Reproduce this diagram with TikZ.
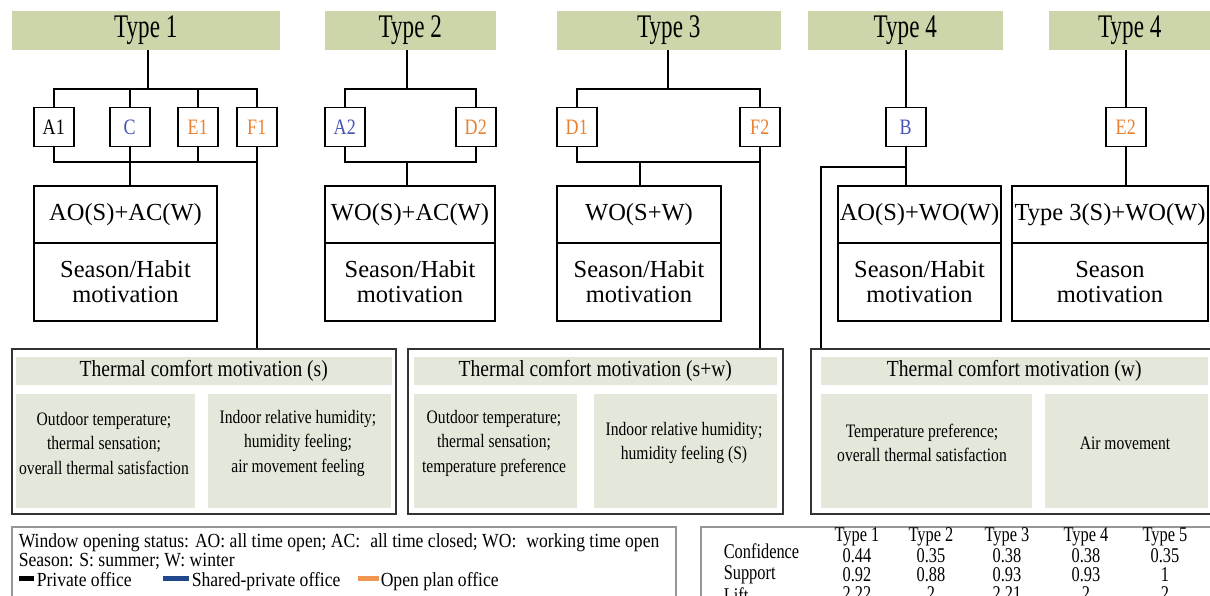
\documentclass[tikz,border=0pt]{standalone}
\usepackage{fontspec}
\setmainfont{Liberation Serif}
\newfontfamily\headfont[FakeStretch=0.7]{Liberation Serif}
\newfontfamily\condfont[FakeStretch=0.82]{Liberation Serif}
\newfontfamily\bandfont[FakeStretch=0.85]{Liberation Serif}
\newfontfamily\notefont[FakeStretch=0.88]{Liberation Serif}
\newfontfamily\tabfont[FakeStretch=0.78]{Liberation Serif}
\usepackage{tikz}
\usetikzlibrary{positioning}
\definecolor{headgreen}{RGB}{204, 214, 170}
\definecolor{panelgreen}{RGB}{228, 232, 218}
\definecolor{sharedblue}{RGB}{68, 84, 180}
\definecolor{openorange}{RGB}{232, 128, 48}
\definecolor{barblue}{RGB}{31, 73, 140}
\definecolor{barorange}{RGB}{240, 150, 80}
\definecolor{framegray}{RGB}{150, 150, 150}

\begin{document}
\begin{tikzpicture}[x = 1pt, y = -1pt, line width = 1.5pt,
  head/.style = {fill = headgreen, anchor = north west, minimum height = 39pt, inner sep = 0pt, font = \headfont\fontsize{33}{33}\selectfont},
  office/.style = {draw, anchor = north west, minimum width = 40pt, minimum height = 39pt, inner sep = 0pt, font = \condfont\fontsize{22}{22}\selectfont},
  status/.style = {draw, line width = 2pt, anchor = north west, minimum height = 57pt, inner sep = 0pt, font = \fontsize{24.5}{25}\selectfont},
  motive/.style = {draw, line width = 2pt, anchor = north west, minimum height = 78pt, inner sep = 0pt, align = center, font = \fontsize{24.5}{25}\selectfont},
  comfort/.style = {draw = black!80, anchor = north west, minimum height = 165pt, inner sep = 0pt},
  band/.style = {fill = panelgreen, anchor = north west, minimum height = 28pt, inner sep = 0pt, font = \bandfont\fontsize{23}{23}\selectfont},
  panel/.style = {fill = panelgreen, anchor = north west, minimum height = 114pt, inner sep = 0pt},
  factor/.style = {align = center, inner sep = 0pt, font = \condfont\fontsize{19}{24.5}\selectfont},
  note/.style = {anchor = base west, inner sep = 0pt, font = \notefont\fontsize{20}{20}\selectfont},
  swatch/.style = {anchor = west, minimum height = 5pt, inner sep = 0pt},
  cell/.style = {anchor = base, inner sep = 0pt, font = \tabfont\fontsize{21}{21}\selectfont}]
  \useasboundingbox (0,0) rectangle (1210,596);

  % types
  \node [head, minimum width = 268pt] (type1) at (11,10) {Type 1};
  \node [head, minimum width = 171pt] (type2) at (324,10) {Type 2};
  \node [head, minimum width = 224pt] (type3) at (556,10) {Type 3};
  \node [head, minimum width = 195pt] (type4) at (807,10) {Type 4};
  \node [head, minimum width = 162pt] (type5) at (1048,10) {Type 4};

  % offices
  \node [office] (A1) at (33,107) {A1};
  \node [office, text = sharedblue] (C) at (109,107) {C};
  \node [office, text = openorange] (E1) at (177,107) {E1};
  \node [office, text = openorange] (F1) at (236,107) {F1};
  \node [office, text = sharedblue] (A2) at (324,107) {A2};
  \node [office, text = openorange] (D2) at (455,107) {D2};
  \node [office, text = openorange] (D1) at (556,107) {D1};
  \node [office, text = openorange] (F2) at (739,107) {F2};
  \node [office, text = sharedblue] (B) at (885,107) {B};
  \node [office, text = openorange] (E2) at (1105,107) {E2};

  % window opening status and motivation
  \node [status, minimum width = 183pt] (status1) at (33,185) {AO(S)+AC(W)};
  \node [motive, minimum width = 183pt] (motive1) at (33,242) {Season/Habit\\motivation};
  \node [status, minimum width = 170pt] (status2) at (324,185) {WO(S)+AC(W)};
  \node [motive, minimum width = 170pt] (motive2) at (324,242) {Season/Habit\\motivation};
  \node [status, minimum width = 164pt] (status3) at (556,185) {WO(S+W)};
  \node [motive, minimum width = 164pt] (motive3) at (556,242) {Season/Habit\\motivation};
  \node [status, minimum width = 163pt] (status4) at (837,185) {AO(S)+WO(W)};
  \node [motive, minimum width = 163pt] (motive4) at (837,242) {Season/Habit\\motivation};
  \node [status, minimum width = 196pt] (status5) at (1011,185) {Type 3(S)+WO(W)};
  \node [motive, minimum width = 196pt] (motive5) at (1011,242) {Season\\motivation};

  % thermal comfort motivation
  \node [comfort, minimum width = 384pt] (comfort1) at (11,348) {};
  \node [band, minimum width = 376pt] (band1) at (15,356) {Thermal comfort motivation (s)};
  \node [panel, minimum width = 179pt] (panel1a) at (15,393) {};
  \node [panel, minimum width = 183pt] (panel1b) at (207,393) {};
  \node [factor] (factor1a) at (104,443) {Outdoor temperature;\\thermal sensation;\\overall thermal satisfaction};
  \node [factor] (factor1b) at (298,443) {Indoor relative humidity;\\humidity feeling;\\air movement feeling};

  \node [comfort, minimum width = 375pt] (comfort2) at (407,348) {};
  \node [band, minimum width = 363pt] (band2) at (413,356) {Thermal comfort motivation (s+w)};
  \node [panel, minimum width = 163pt] (panel2a) at (413,393) {};
  \node [panel, minimum width = 183pt] (panel2b) at (593,393) {};
  \node [factor] (factor2a) at (494,443) {Outdoor temperature;\\thermal sensation;\\temperature preference};
  \node [factor] (factor2b) at (684,443) {Indoor relative humidity;\\humidity feeling (S)};

  \node [comfort, minimum width = 410pt] (comfort3) at (810,348) {};
  \node [band, minimum width = 387pt] (band3) at (820,356) {Thermal comfort motivation (w)};
  \node [panel, minimum width = 211pt] (panel3a) at (820,393) {};
  \node [panel, minimum width = 163pt] (panel3b) at (1044,393) {};
  \node [factor] (factor3a) at (922,443) {Temperature preference;\\overall thermal satisfaction};
  \node [factor] (factor3b) at (1125,443) {Air movement};

  % edges
  \coordinate (fork1) at (148,89);
  \coordinate (join1) at (148,162);
  \draw (fork1 |- type1.south) -- (fork1);
  \draw (A1.north) |- (fork1) -| (F1.north);
  \draw (C.north) -- (C.north |- fork1);
  \draw (E1.north) -- (E1.north |- fork1);
  \draw (A1.south) |- (join1) -| (F1.south);
  \draw (C.south) -- (C.south |- status1.north);
  \draw (E1.south) -- (E1.south |- join1);
  \draw (F1.south) -- (F1.south |- comfort1.north);

  \coordinate (fork2) at (407,89);
  \coordinate (join2) at (407,162);
  \draw (fork2 |- type2.south) -- (fork2);
  \draw (A2.north) |- (fork2) -| (D2.north);
  \draw (A2.south) |- (join2) -| (D2.south);
  \draw (join2) -- (join2 |- status2.north);

  \coordinate (fork3) at (668,89);
  \coordinate (join3) at (640,162);
  \draw (fork3 |- type3.south) -- (fork3);
  \draw (D1.north) |- (fork3) -| (F2.north);
  \draw (D1.south) |- (join3) -| (F2.south);
  \draw (join3) -- (join3 |- status3.north);
  \draw (F2.south) -- (F2.south |- comfort2.north);

  \coordinate (tap4) at (905,167);
  \coordinate (drop4) at (821,348);
  \draw (B.north |- type4.south) -- (B.north);
  \draw (B.south) -- (B.south |- status4.north);
  \draw (tap4) -| (drop4);

  \draw (E2.north |- type5.south) -- (E2.north);
  \draw (E2.south) -- (E2.south |- status5.north);

  % legend
  \node [draw = framegray, anchor = north west, minimum width = 664pt, minimum height = 90pt] (legend) at (11,526) {};
  \node [note] (statusnote) at (18,547) {Window opening status: AO: all time open; AC:\enspace all time closed; WO:\enspace working time open};
  \node [note] (seasonnote) at (18,566) {Season: S: summer; W: winter};
  \node [swatch, fill = black, minimum width = 15pt] (keyprivate) at (18,578) {};
  \node [note] (private) at (36,586) {Private office};
  \node [swatch, fill = barblue, minimum width = 26pt] (keyshared) at (162,578) {};
  \node [note] (shared) at (191,586) {Shared-private office};
  \node [swatch, fill = barorange, minimum width = 21pt] (keyopen) at (357,578) {};
  \node [note] (open) at (380,586) {Open plan office};

  % association rules
  \node [draw = framegray, anchor = north west, minimum width = 520pt, minimum height = 90pt] (rules) at (700,526) {};
  \node [cell, anchor = base west] (confidence) at (723,558) {Confidence};
  \node [cell, anchor = base west] (support) at (723,579) {Support};
  \node [cell, anchor = base west] (lift) at (723,602) {Lift};
  \node [cell] (col1) at (857,541) {Type 1};
  \node [cell] (col2) at (931,541) {Type 2};
  \node [cell] (col3) at (1007,541) {Type 3};
  \node [cell] (col4) at (1086,541) {Type 4};
  \node [cell] (col5) at (1165,541) {Type 5};
  \node [cell] (conf1) at (857,562) {0.44};
  \node [cell] (conf2) at (931,562) {0.35};
  \node [cell] (conf3) at (1007,562) {0.38};
  \node [cell] (conf4) at (1086,562) {0.38};
  \node [cell] (conf5) at (1165,562) {0.35};
  \node [cell] (supp1) at (857,581) {0.92};
  \node [cell] (supp2) at (931,581) {0.88};
  \node [cell] (supp3) at (1007,581) {0.93};
  \node [cell] (supp4) at (1086,581) {0.93};
  \node [cell] (supp5) at (1165,581) {1};
  \node [cell] (lift1) at (857,600) {2.22};
  \node [cell] (lift2) at (931,600) {2};
  \node [cell] (lift3) at (1007,600) {2.21};
  \node [cell] (lift4) at (1086,600) {2};
  \node [cell] (lift5) at (1165,600) {2};
\end{tikzpicture}
\end{document}
